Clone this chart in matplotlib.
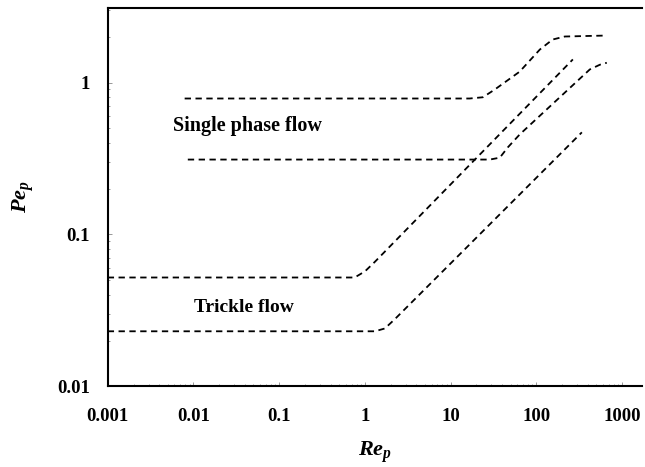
import matplotlib
matplotlib.use("Agg")
import matplotlib.pyplot as plt
from matplotlib.ticker import FixedLocator, FixedFormatter, LogLocator, NullFormatter

# Single phase flow, upper curve
single_hi_re = [0.0079, 16.7, 23.8, 32.8, 64, 110, 155, 215, 664]
single_hi_pe = [0.785, 0.785, 0.80, 0.90, 1.18, 1.65, 1.92, 2.01, 2.04]

# Single phase flow, lower curve
single_lo_re = [0.0086, 28.7, 37.5, 46.5, 64, 421, 551, 664]
single_lo_pe = [0.311, 0.311, 0.32, 0.374, 0.455, 1.22, 1.31, 1.35]

# Trickle flow, upper curve
trickle_hi_re = [0.001, 0.76, 1.0, 1.31, 267]
trickle_hi_pe = [0.052, 0.052, 0.057, 0.066, 1.42]

# Trickle flow, lower curve
trickle_lo_re = [0.001, 1.31, 1.71, 2.23, 340]
trickle_lo_pe = [0.023, 0.023, 0.024, 0.0276, 0.47]

x_ticks = [0.001, 0.01, 0.1, 1, 10, 100, 1000]
x_labels = ["0.001", "0.01", "0.1", "1", "10", "100", "1000"]
y_ticks = [0.01, 0.1, 1]
y_labels = ["0.01", "0.1", "1"]


def main():
    plt.rcParams['font.family'] = ['Liberation Serif', 'DejaVu Serif']
    plt.rcParams['mathtext.fontset'] = 'custom'
    plt.rcParams['mathtext.it'] = 'Liberation Serif:italic:bold'
    plt.rcParams['mathtext.rm'] = 'Liberation Serif:bold'

    fig = plt.figure(figsize=(6.45, 4.67), dpi=100)
    ax = fig.add_axes([0.167, 0.173, 0.828, 0.81])

    for xs, ys in [(single_hi_re, single_hi_pe), (single_lo_re, single_lo_pe),
                   (trickle_hi_re, trickle_hi_pe), (trickle_lo_re, trickle_lo_pe)]:
        ax.plot(xs, ys, color="black", lw=1.3, dashes=(3.5, 2.5))

    ax.set_xscale("log")
    ax.set_yscale("log")
    ax.set_xlim(0.001, 1700)
    ax.set_ylim(0.01, 3.1)

    ax.xaxis.set_major_locator(FixedLocator(x_ticks))
    ax.xaxis.set_major_formatter(FixedFormatter(x_labels))
    ax.yaxis.set_major_locator(FixedLocator(y_ticks))
    ax.yaxis.set_major_formatter(FixedFormatter(y_labels))
    ax.xaxis.set_minor_locator(LogLocator(subs=range(2, 10)))
    ax.yaxis.set_minor_locator(LogLocator(subs=range(2, 10)))
    ax.xaxis.set_minor_formatter(NullFormatter())
    ax.yaxis.set_minor_formatter(NullFormatter())

    ax.tick_params(which="both", direction="in", color="#888888", width=0.6)
    ax.tick_params(which="major", length=3, labelsize=13.5)
    ax.tick_params(which="minor", length=1.5)
    ax.tick_params(axis="x", pad=16)
    ax.tick_params(axis="y", pad=13)
    for lab in ax.get_xticklabels() + ax.get_yticklabels():
        lab.set_fontweight("bold")

    ax.spines["right"].set_visible(False)
    for side in ["left", "bottom", "top"]:
        ax.spines[side].set_linewidth(1.5)

    ax.text(0.043, 0.514, "Single phase flow", fontsize=14.5, fontweight="bold", ha="center", va="center")
    ax.text(0.0386, 0.0330, "Trickle flow", fontsize=14, fontweight="bold", ha="center", va="center")

    ax.set_xlabel(r"$Re_p$", fontsize=16, labelpad=10)
    ax.set_ylabel(r"$Pe_p$", fontsize=16, labelpad=15)

    plt.savefig("out.png", dpi=100)


if __name__ == "__main__":
    main()
